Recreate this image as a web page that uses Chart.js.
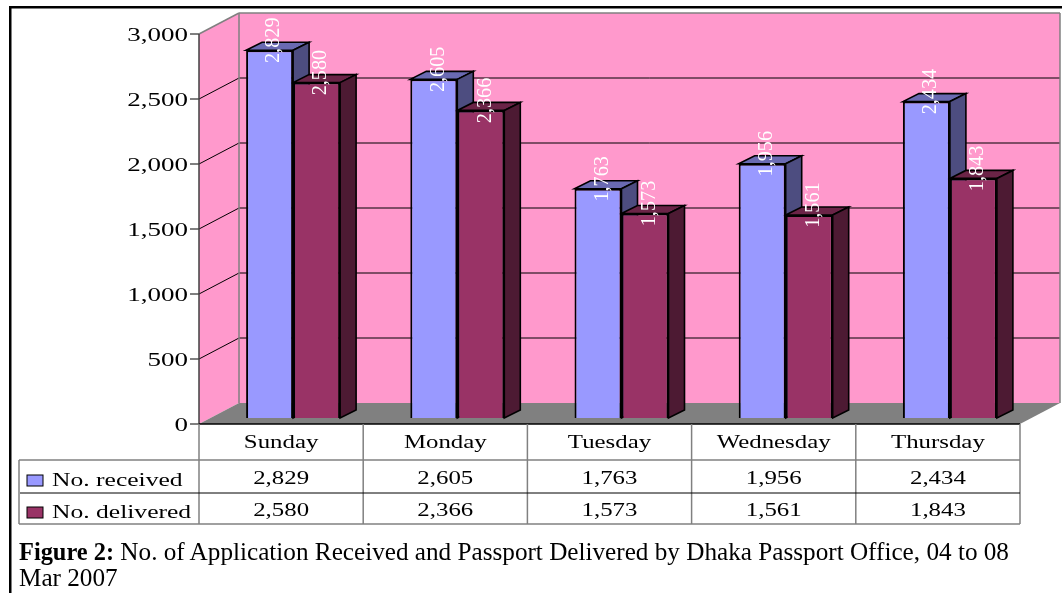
<!DOCTYPE html>
<html>
<head>
<meta charset="utf-8">
<title>Passport Office</title>
<script src="https://cdn.jsdelivr.net/npm/chart.js@4"></script>
<style>
  body { margin: 0; background: #fff; overflow: hidden; }
  #wrap { position: relative; width: 1062px; height: 593px; }
  #myChart { position: absolute; left: 0; top: 0; }
  #caption {
    position: absolute; left: 19px; top: 539px; width: 1010px;
    font: 25.2px/26px "Liberation Serif", serif; color: #000;
  }
  #caption b { font-size: 24.4px; }
</style>
</head>
<body>
<div id="wrap">
  <canvas id="myChart" width="1062" height="593"></canvas>
  <div id="caption"><b>Figure 2:</b> No. of Application Received and Passport Delivered by Dhaka Passport Office, 04 to 08 Mar 2007</div>
</div>
<script>
var categories = ["Sunday", "Monday", "Tuesday", "Wednesday", "Thursday"];
var received = [2829, 2605, 1763, 1956, 2434];
var delivered = [2580, 2366, 1573, 1561, 1843];
var seriesNames = ["No. received", "No. delivered"];

var frontColors = ['#9999FF', '#993366'];
var topColors = ['#6A6AB2', '#6B2447'];
var sideColors = ['#4D4D80', '#4D1A33'];

var FONT = '"Liberation Serif", serif';
// depth of the fake 3d box and of each bar
var wallDx = 40, wallDy = 21;
var barDx = 12, barDy = 6;
var depthX = 16, depthY = 8;

function fmt(v) {
  return v.toLocaleString('en-US');
}

// Old Excel text is wider than normal Times, so stretch it by hand
function label(ctx, str, x, y, size, sx, rot, color, align) {
  ctx.save();
  ctx.translate(x, y);
  if (rot) ctx.rotate(rot);
  ctx.scale(sx, 1);
  ctx.font = size + 'px ' + FONT;
  ctx.fillStyle = color || '#000';
  ctx.textBaseline = 'middle';
  ctx.textAlign = align || 'center';
  ctx.fillText(str, 0, 0);
  ctx.restore();
}

function poly(ctx, pts, fill, stroke, lw) {
  ctx.beginPath();
  ctx.moveTo(pts[0][0], pts[0][1]);
  for (var i = 1; i < pts.length; i++) ctx.lineTo(pts[i][0], pts[i][1]);
  ctx.closePath();
  if (fill) { ctx.fillStyle = fill; ctx.fill(); }
  if (stroke) { ctx.strokeStyle = stroke; ctx.lineWidth = lw || 1; ctx.stroke(); }
}

function line(ctx, x1, y1, x2, y2, color, lw) {
  ctx.beginPath();
  ctx.moveTo(x1, y1);
  ctx.lineTo(x2, y2);
  ctx.strokeStyle = color;
  ctx.lineWidth = lw || 1;
  ctx.stroke();
}

var box3d = {
  id: 'box3d',
  beforeDatasetsDraw: function(chart) {
    var ctx = chart.ctx, a = chart.chartArea, y = chart.scales.y;
    // page frame
    ctx.fillStyle = '#000';
    ctx.fillRect(9, 6, 1053, 2.5);
    ctx.fillRect(9, 6, 2.5, 587);

    poly(ctx, [[a.left + wallDx, a.top - wallDy], [a.right + wallDx, a.top - wallDy], [a.right + wallDx, a.bottom - wallDy], [a.left + wallDx, a.bottom - wallDy]], '#FF99CC');
    poly(ctx, [[a.left, a.top], [a.left + wallDx, a.top - wallDy], [a.left + wallDx, a.bottom - wallDy], [a.left, a.bottom]], '#FF99CC');
    poly(ctx, [[a.left, a.bottom], [a.right, a.bottom], [a.right + wallDx, a.bottom - wallDy], [a.left + wallDx, a.bottom - wallDy]], '#808080');

    y.ticks.forEach(function(t) {
      var py = y.getPixelForValue(t.value);
      if (t.value > 0 && t.value < 3000) {
        line(ctx, a.left, py, a.left + wallDx, py - wallDy, '#000');
        line(ctx, a.left + wallDx, py - wallDy, a.right + wallDx, py - wallDy, '#000');
      }
      line(ctx, a.left - 9, py, a.left, py, '#000');
      label(ctx, fmt(t.value), 188, py + 2, 18, 1.5, 0, '#000', 'right');
    });
    line(ctx, a.left, a.top, a.left + wallDx, a.top - wallDy, '#808080', 1.5);
    line(ctx, a.left + wallDx, a.top - wallDy, a.right + wallDx, a.top - wallDy, '#808080', 1.5);
    line(ctx, a.left + wallDx, a.top - wallDy, a.left + wallDx, a.bottom - wallDy, '#808080', 1.5);
    line(ctx, a.right + wallDx, a.top - wallDy, a.right + wallDx, a.bottom - wallDy, '#808080', 1.5);
    line(ctx, a.left, a.top, a.left, a.bottom, '#404040', 1.5);
    line(ctx, a.left, a.bottom, a.right, a.bottom, '#000', 1.5);

    // tops and sides go first, so each front the library paints sits over them
    ctx.save();
    ctx.translate(barDx, -barDy);
    [0, 1].forEach(function(idx) {
      chart.getDatasetMeta(idx).data.forEach(function(bar) {
        var r = bar.x + bar.width / 2, l = bar.x - bar.width / 2, t = bar.y, b = bar.base;
        poly(ctx, [[l, t], [r, t], [r + depthX, t - depthY], [l + depthX, t - depthY]], topColors[idx], '#000', 1.6);
        poly(ctx, [[r, t], [r + depthX, t - depthY], [r + depthX, b - depthY], [r, b]], sideColors[idx], '#000', 1.6);
      });
    });
  },
  afterDatasetsDraw: function(chart) {
    var ctx = chart.ctx;
    ctx.restore();
    // values standing up over each bar
    [0, 1].forEach(function(idx) {
      chart.getDatasetMeta(idx).data.forEach(function(bar, i) {
        var v = chart.data.datasets[idx].data[i];
        label(ctx, fmt(v), bar.x + barDx + 4, bar.y - barDy - 10, 22, 0.92, -Math.PI / 2, '#fff');
      });
    });
    drawTable(chart);
  }
};

function drawTable(chart) {
  var ctx = chart.ctx, a = chart.chartArea, x = chart.scales.x;
  var rowTop = 460, rowMid = 493, rowBot = 524, left = 19;
  var step = (a.right - a.left) / categories.length;

  for (var c = 0; c <= categories.length; c++) {
    line(ctx, a.left + c * step, a.bottom, a.left + c * step, rowBot, '#808080', 1.5);
  }
  line(ctx, left, rowTop, a.right, rowTop, '#808080', 1.5);
  line(ctx, left, rowBot, a.right, rowBot, '#808080', 1.5);
  line(ctx, left, rowTop, left, rowBot, '#808080', 1.5);
  line(ctx, left + 1, rowMid, a.right, rowMid, '#000', 1);

  categories.forEach(function(name, i) {
    var cx = x.getPixelForValue(i);
    label(ctx, name, cx, 443, 18, 1.38);
    label(ctx, fmt(received[i]), cx, 479, 18, 1.38);
    label(ctx, fmt(delivered[i]), cx, 511, 18, 1.38);
  });

  [[475, 0], [507, 1]].forEach(function(r) {
    ctx.fillStyle = frontColors[r[1]];
    ctx.fillRect(27, r[0], 16, 11);
    ctx.strokeStyle = '#000';
    ctx.lineWidth = 1;
    ctx.strokeRect(27, r[0], 16, 11);
    label(ctx, seriesNames[r[1]], 52, r[0] + 6, 18, 1.42, 0, '#000', 'left');
  });
}

var chart = new Chart(document.getElementById('myChart').getContext('2d'), {
  type: 'bar',
  data: {
    labels: categories,
    datasets: [
      { label: seriesNames[0], data: received, backgroundColor: frontColors[0], borderColor: '#000', borderWidth: 2, clip: false },
      { label: seriesNames[1], data: delivered, backgroundColor: frontColors[1], borderColor: '#000', borderWidth: 2, clip: false }
    ]
  },
  plugins: [box3d],
  options: {
    responsive: false,
    animation: false,
    layout: { padding: { top: 34, right: 42, left: 0, bottom: 0 } },
    plugins: { legend: { display: false }, tooltip: { enabled: false } },
    datasets: { bar: { categoryPercentage: 0.5725, barPercentage: 1 } },
    scales: {
      x: {
        grid: { display: false },
        border: { display: false },
        ticks: { display: false },
        afterFit: function(s) { s.height = 169; }
      },
      y: {
        min: 0,
        max: 3000,
        grid: { display: false },
        border: { display: false },
        ticks: { display: false, stepSize: 500 },
        afterFit: function(s) { s.width = 199; }
      }
    }
  }
});
</script>
</body>
</html>
